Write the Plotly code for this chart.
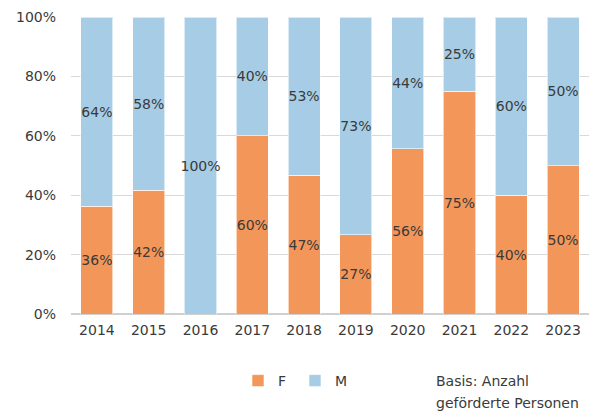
import plotly.graph_objects as go

years = ["2014", "2015", "2016", "2017", "2018", "2019", "2020", "2021", "2022", "2023"]
share_f = [36.36, 41.67, 0.0, 60.0, 46.67, 26.67, 55.56, 75.0, 40.0, 50.0]
share_m = [63.64, 58.33, 100.0, 40.0, 53.33, 73.33, 44.44, 25.0, 60.0, 50.0]
note_lines = ["Basis: Anzahl", "geförderte Personen"]

color_f = "#F39659"
color_m = "#A6CDE5"
text_color = "#3A3A3A"
font_family = "'DejaVu Sans ExtraLight', 'DejaVu Sans', sans-serif"

# plot area in pixels
M_L, M_R, M_T, M_B = 71, 14, 17, 98
W, H = 603, 412
plot_h = H - M_T - M_B
plot_w = W - M_L - M_R


def labels(values):
    return [f"{v:.0f}%" if v > 0 else "" for v in values]


fig = go.Figure()
for name, vals, col in [("F", share_f, color_f), ("M", share_m, color_m)]:
    fig.add_trace(go.Bar(
        x=years, y=vals, name=name, marker_color=col,
        marker_line=dict(color="rgba(255,255,255,0.6)", width=1),
        text=labels(vals), textposition="inside", insidetextanchor="middle",
        textfont=dict(color=text_color, size=14, family=font_family),
        textangle=0,
    ))

fig.update_layout(
    barmode="stack",
    bargap=0.38,
    width=W, height=H,
    margin=dict(l=M_L, r=M_R, t=M_T, b=M_B, autoexpand=False),
    plot_bgcolor="white", paper_bgcolor="white",
    font=dict(family=font_family, size=14, color=text_color),
    uniformtext=dict(minsize=14, mode="show"),
    xaxis=dict(showgrid=False, ticks="", showline=False, tickfont=dict(size=14),
               ticklabelstandoff=6),
    yaxis=dict(range=[0, 100], dtick=20, ticksuffix="%", showgrid=True,
               gridcolor="#D9D9D9", gridwidth=1, zeroline=True,
               zerolinecolor="#D0D0D0", zerolinewidth=1.5,
               tickfont=dict(size=14), ticklabelstandoff=14),
    legend=dict(orientation="h", traceorder="normal",
                x=(238 - M_L) / plot_w, xanchor="left",
                yref="container", y=1 - 381 / H, yanchor="middle",
                font=dict(size=14), itemwidth=30, entrywidth=12),
    showlegend=True,
)

for i, line in enumerate(note_lines):
    fig.add_annotation(
        text=line, xref="paper", yref="paper",
        x=(434 - M_L) / plot_w, y=(M_T + plot_h - (381 + 22 * i)) / plot_h,
        xanchor="left", yanchor="middle", align="left", showarrow=False,
        font=dict(size=14, color=text_color, family=font_family),
    )

fig.write_html("out.html")
